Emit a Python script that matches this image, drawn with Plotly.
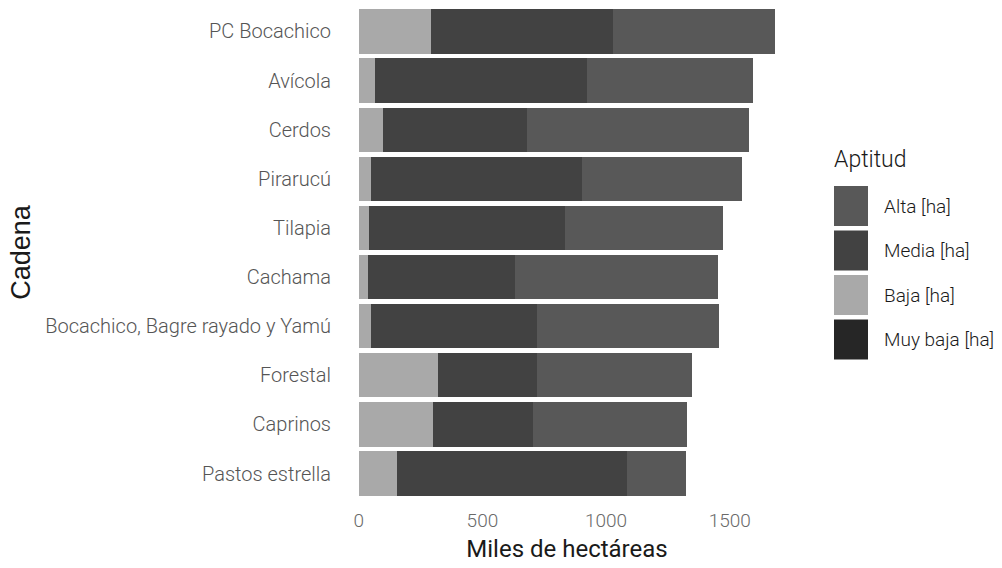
import plotly.graph_objects as go

cadenas = ["PC Bocachico", "Avícola", "Cerdos", "Pirarucú", "Tilapia", "Cachama",
           "Bocachico, Bagre rayado y Yamú", "Forestal", "Caprinos", "Pastos estrella"]
muy_baja = [0, 0, 0, 0, 0, 0, 0, 0, 0, 0]
baja = [291, 65, 97, 49, 40, 36, 49, 320, 300, 154]
media = [737, 858, 583, 854, 794, 596, 671, 400, 404, 931]
alta = [656, 672, 899, 648, 640, 821, 737, 628, 624, 239]
x_ticks = [0, 500, 1000, 1500]

series = [
    ("Muy baja [ha]", muy_baja, "#262626"),
    ("Baja [ha]", baja, "#a9a9a9"),
    ("Media [ha]", media, "#424242"),
    ("Alta [ha]", alta, "#585858"),
]

fig = go.Figure()
for name, vals, col in series:
    fig.add_trace(go.Bar(y=cadenas, x=vals, name=name, orientation="h", showlegend=False,
                         marker=dict(color=col, line=dict(width=0)), width=0.9))

# legend drawn as shapes/annotations (ggplot-like large keys)
W, H = 1002, 568
ml, mr, mt, mb = 338, 206, 2, 65
pw, ph = W - ml - mr, H - mt - mb
def px(x):
    return (x - ml) / pw
def py(y):
    return 1 - (y - mt) / ph

fig.add_annotation(text="Aptitud", xref="paper", yref="paper", x=px(832), y=py(159),
                   xanchor="left", yanchor="middle", showarrow=False,
                   font=dict(family="Roboto", size=23, color="#1a1a1a", weight=300))
legend_order = list(reversed(series))
for i, (name, vals, col) in enumerate(legend_order):
    yc = 206 + i * 44.5
    fig.add_shape(type="rect", xref="paper", yref="paper",
                  x0=px(834), x1=px(868), y0=py(yc - 20), y1=py(yc + 20),
                  fillcolor=col, line=dict(width=0))
    fig.add_annotation(text=name, xref="paper", yref="paper", x=px(882), y=py(yc),
                       xanchor="left", yanchor="middle", showarrow=False,
                       font=dict(family="Roboto", size=19, color="#1a1a1a", weight=300))

fig.update_layout(
    barmode="stack",
    width=W, height=H,
    paper_bgcolor="white", plot_bgcolor="white",
    margin=dict(l=ml, r=mr, t=mt, b=mb, autoexpand=False),
    font=dict(family="Roboto", color="#4d4d4d", size=14),
    showlegend=False,
    xaxis=dict(range=[-84, 1768], tickvals=x_ticks,
               ticktext=[str(v) for v in x_ticks], showgrid=False, zeroline=False,
               ticks="", automargin=False, ticklabelstandoff=4,
               title=dict(text="Miles de hectáreas", font=dict(family="Roboto", size=24, color="#1a1a1a"), standoff=9),
               tickfont=dict(family="Roboto", size=19, color="#6a6a6a", weight=300)),
    yaxis=dict(categoryorder="array", categoryarray=cadenas, range=[9.6, -0.6],
               showgrid=False, ticks="", ticklabelstandoff=6, automargin=False,
               title=dict(text="Cadena", font=dict(family="Liberation Sans", size=27, color="#1a1a1a"), standoff=6),
               tickfont=dict(family="Roboto", size=20, color="#555555", weight=300)),
)

fig.write_html("out.html", config={"displayModeBar": False},
               post_script="document.body.style.margin='0';")
